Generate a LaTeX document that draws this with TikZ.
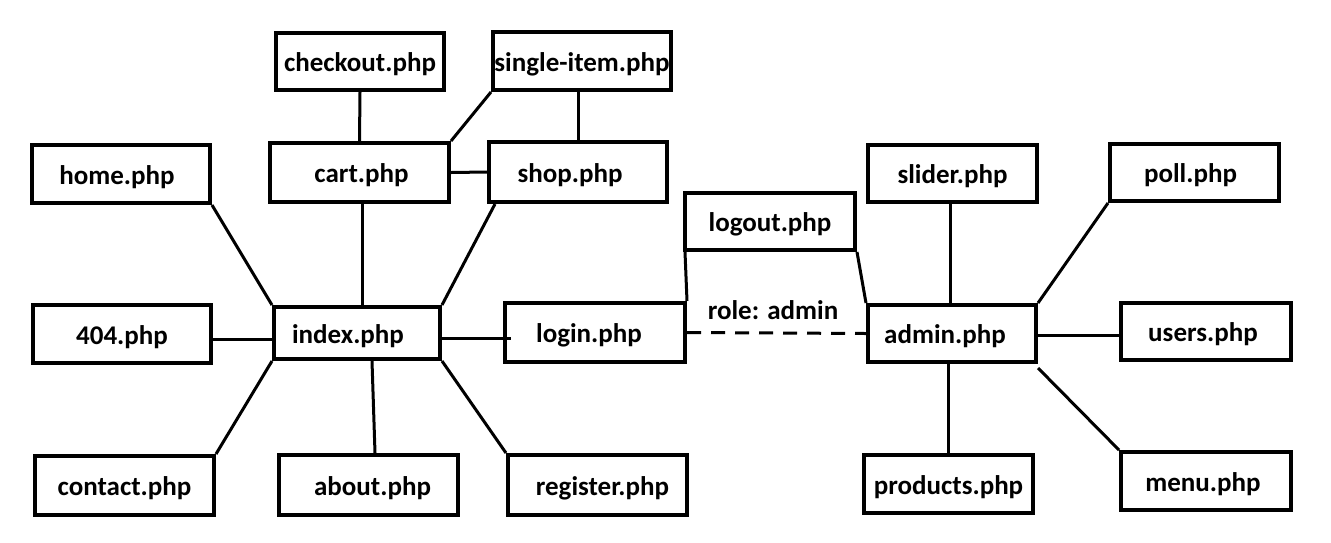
\documentclass[tikz,border=0pt]{standalone}
\usepackage{fontspec}
\setmainfont{Carlito}
\tikzset{
  box/.style={draw, line width=4pt, inner sep=0pt},
  lbl/.style={inner sep=0pt, yshift=-3pt, font=\bfseries\fontsize{27}{31}\selectfont},
  conn/.style={line width=3pt},
  dconn/.style={line width=3pt, dash pattern=on 14pt off 10pt},
}
\begin{document}
\begin{tikzpicture}[x=1pt,y=-1pt]
\useasboundingbox[fill=white] (0,0) rectangle (1331,542);
% boxes: center, size = outer size - 4
\node[box, minimum width=168pt, minimum height=57pt] (checkout) at (360,61.5) {};
\node[box, minimum width=178pt, minimum height=58pt] (single) at (582,61) {};
\node[box, minimum width=179pt, minimum height=59pt] (cart) at (359.5,172.5) {};
\node[box, minimum width=178pt, minimum height=60pt] (shop) at (578,172) {};
\node[box, minimum width=178pt, minimum height=58pt] (home) at (121,174) {};
\node[box, minimum width=169pt, minimum height=57pt] (slider) at (952.5,173.5) {};
\node[box, minimum width=169pt, minimum height=57pt] (poll) at (1194.5,172.5) {};
\node[box, minimum width=170pt, minimum height=57pt] (logout) at (770,221.5) {};
\node[box, minimum width=178pt, minimum height=58pt] (e404) at (122,334) {};
\node[box, minimum width=166pt, minimum height=52pt] (index) at (357,333) {};
\node[box, minimum width=180pt, minimum height=59pt] (login) at (595,332.5) {};
\node[box, minimum width=168pt, minimum height=57pt] (admin) at (952,333.5) {};
\node[box, minimum width=170pt, minimum height=57pt] (users) at (1206,331.5) {};
\node[box, minimum width=179pt, minimum height=59pt] (contact) at (124.5,485.5) {};
\node[box, minimum width=179pt, minimum height=60pt] (about) at (368.5,485) {};
\node[box, minimum width=179pt, minimum height=60pt] (register) at (597.5,485) {};
\node[box, minimum width=169pt, minimum height=58pt] (products) at (948.5,484) {};
\node[box, minimum width=170pt, minimum height=58pt] (menu) at (1206,481) {};
% labels
\node[lbl] (checkout-t) at (checkout.center) {checkout.php};
\node[lbl] (single-t) at (single.center) {single-item.php};
\node[lbl] (cart-t) at ([xshift=2pt]cart.center) {cart.php};
\node[lbl] (shop-t) at ([xshift=-8pt]shop.center) {shop.php};
\node[lbl] (home-t) at ([xshift=-4pt]home.center) {home.php};
\node[lbl] (slider-t) at (slider.center) {slider.php};
\node[lbl] (poll-t) at ([xshift=-4pt]poll.center) {poll.php};
\node[lbl] (logout-t) at (logout.center) {logout.php};
\node[lbl] (e404-t) at (e404.center) {404.php};
\node[lbl] (index-t) at ([xshift=-9pt]index.center) {index.php};
\node[lbl] (login-t) at ([xshift=-6pt]login.center) {login.php};
\node[lbl] (admin-t) at ([xshift=-7pt]admin.center) {admin.php};
\node[lbl] (users-t) at ([xshift=-3pt]users.center) {users.php};
\node[lbl] (contact-t) at (contact.center) {contact.php};
\node[lbl] (about-t) at ([xshift=4pt]about.center) {about.php};
\node[lbl] (register-t) at ([xshift=5pt]register.center) {register.php};
\node[lbl] (products-t) at (products.center) {products.php};
\node[lbl] (menu-t) at ([xshift=-3pt]menu.center) {menu.php};
% connectors
\draw[conn] (checkout.south) -- (cart.north);
\draw[conn] (single.south west) -- (cart.north east);
\draw[conn] (shop.north |- single.south) -- (shop.north);
\draw[conn] (cart.east) -- (shop.west);
\draw[conn] ([xshift=3pt]cart.south) -- ([xshift=3pt]cart.south |- index.north);
\draw[conn] (home.south east) -- (index.north west);
\draw[conn] ([xshift=8pt]shop.south west) -- (index.north east);
\draw[conn] ([yshift=-5pt]e404.east) -- ([yshift=-6pt,xshift=4pt]index.west);
\draw[conn] (contact.north east) -- (index.south west);
\draw[conn] ([xshift=15pt]index.south) -- ([xshift=6.5pt]about.north);
\draw[conn] (index.south east) -- (register.north west);
\draw[conn] ([yshift=-5pt]index.east) -- ([yshift=-5.5pt,xshift=8pt]login.west);
\draw[conn] ([xshift=2pt]logout.south west) -- (login.north east);
\draw[conn] (logout.south east) -- (admin.north west);
\draw[dconn] (login.east) -- (admin.west);
\node[lbl] (role) at (773,307) {role: admin};
\draw[conn] ([xshift=-2pt]slider.south) -- ([xshift=-2pt]slider.south |- admin.north);
\draw[conn] (poll.south west) -- (admin.north east);
\draw[conn] ([yshift=-1.5pt]admin.east) -- ([yshift=-1.5pt]admin.east -| users.west);
\draw[conn] (products.north |- admin.south) -- (products.north);
\draw[conn] ([yshift=-4pt]admin.south east) -- (menu.north west);
\end{tikzpicture}
\end{document}
